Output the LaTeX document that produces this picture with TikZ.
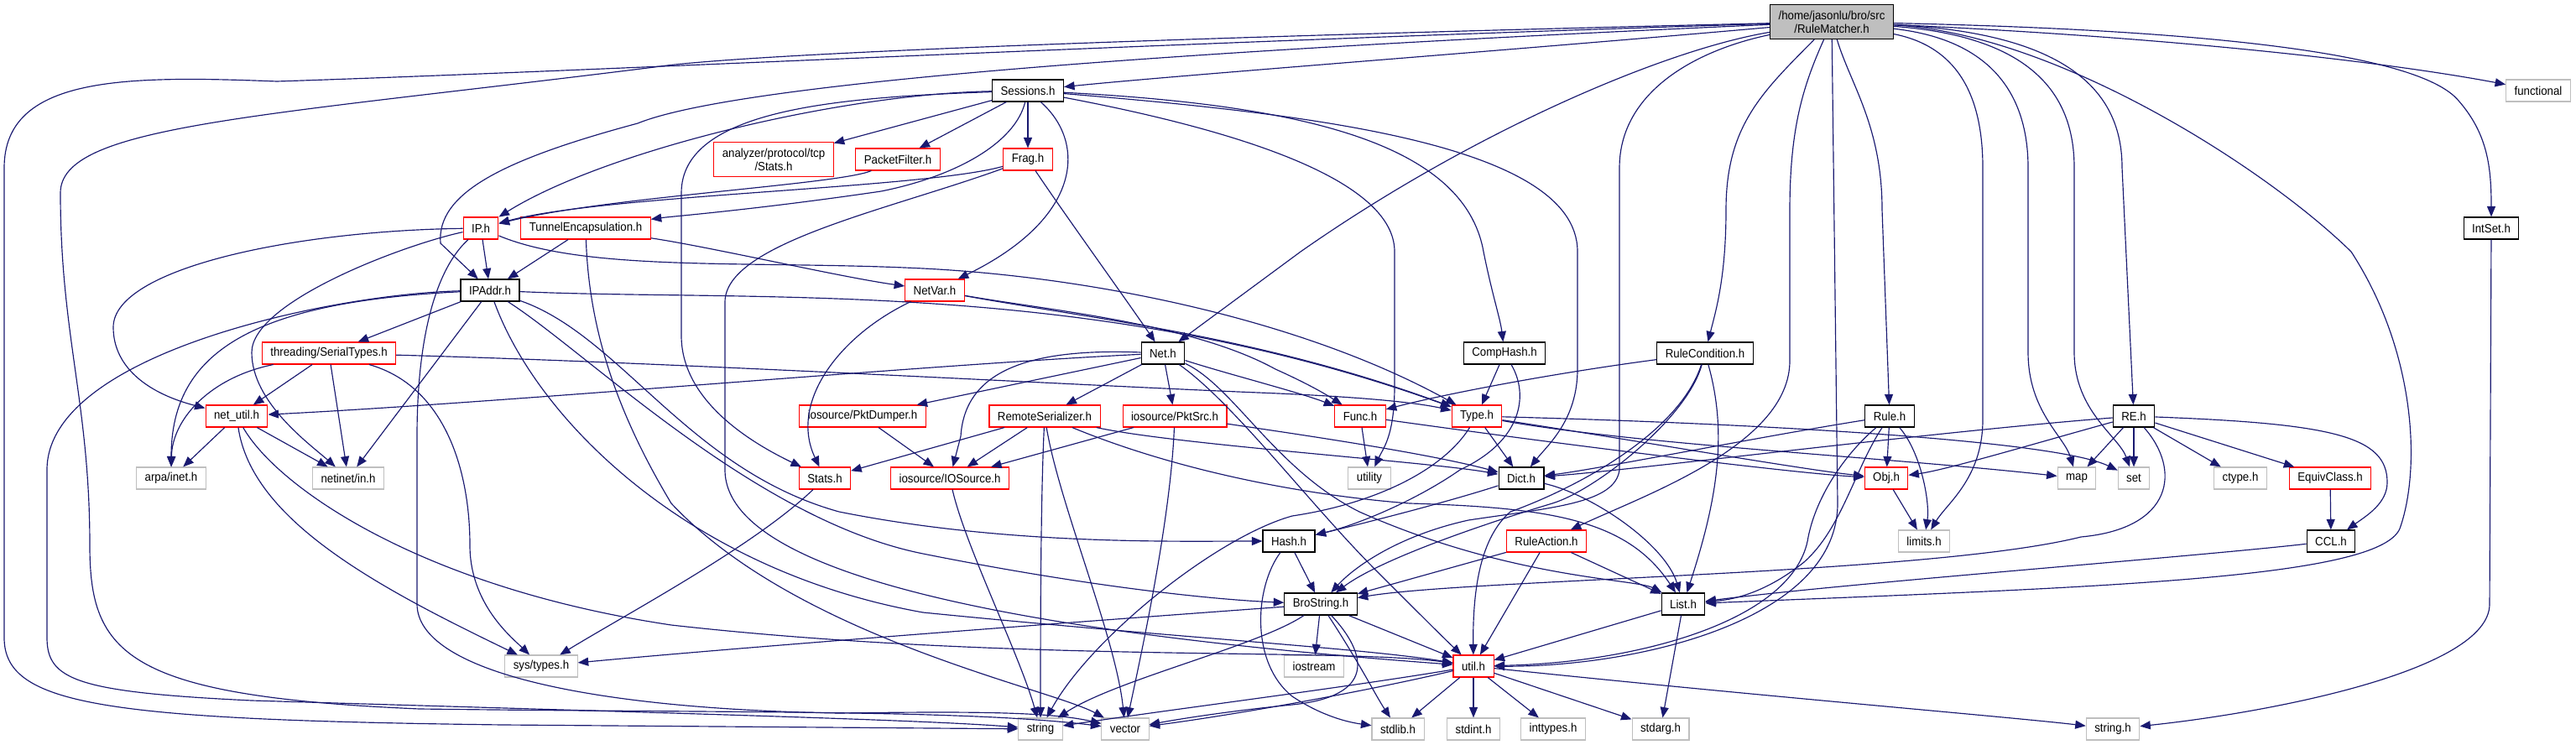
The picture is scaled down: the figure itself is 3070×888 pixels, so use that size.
\documentclass[tikz,border=0pt]{standalone}
\usepackage{fontspec}
\newfontfamily\dotfont[FakeStretch=0.92]{Liberation Sans}
\usetikzlibrary{arrows.meta}
\definecolor{edgeblue}{RGB}{25,25,112}
\definecolor{boxgray}{RGB}{191,191,191}

\begin{document}
\begin{tikzpicture}[x=0.01cm,y=-0.01cm]
    \tikzstyle{every node}=[rectangle,fill=white,inner xsep=0.1cm,inner ysep=0pt,
                            minimum height=0.26cm,align=center,
                            font=\dotfont\fontsize{4.1}{4.6}\selectfont]
    \tikzstyle{docfile}=[draw=black,line width=0.32pt]
    \tikzstyle{truncfile}=[draw=red,line width=0.3pt]
    \tikzstyle{sysfile}=[draw=boxgray,line width=0.3pt]
    \tikzstyle{rootfile}=[draw=black,fill=boxgray,line width=0.32pt]
    \tikzstyle{dep}=[draw=edgeblue,line width=0.33pt,
                     -{Triangle[length=0.125cm,width=0.1cm]}]

    \useasboundingbox (0,0) rectangle (3070,888);

    % the files, row by row
    \node[rootfile,minimum height=0.41cm] (rm) at (2183,26) {/home/jasonlu/bro/src\\/RuleMatcher.h};
    \node[docfile] (sessions) at (1225,108) {Sessions.h};
    \node[sysfile] (functional) at (3025,108) {functional};
    \node[truncfile,minimum height=0.41cm] (tcpstats) at (922,190) {analyzer/protocol/tcp\\/Stats.h};
    \node[truncfile] (pktfilter) at (1070,190) {PacketFilter.h};
    \node[truncfile] (frag) at (1225,190) {Frag.h};
    \node[truncfile] (ip) at (573,272) {IP.h};
    \node[truncfile] (tunnel) at (698,272) {TunnelEncapsulation.h};
    \node[docfile] (intset) at (2969,272) {IntSet.h};
    \node[docfile] (ipaddr) at (584,346) {IPAddr.h};
    \node[truncfile] (netvar) at (1114,346) {NetVar.h};
    \node[truncfile] (serialtypes) at (392,421) {threading/SerialTypes.h};
    \node[docfile] (net) at (1386,421) {Net.h};
    \node[docfile] (comphash) at (1793,421) {CompHash.h};
    \node[docfile] (rulecond) at (2032,421) {RuleCondition.h};
    \node[truncfile] (netutil) at (282,496) {net\_util.h};
    \node[truncfile] (pktdumper) at (1028,496) {iosource/PktDumper.h};
    \node[truncfile] (remoteser) at (1245,496) {RemoteSerializer.h};
    \node[truncfile] (pktsrc) at (1400,496) {iosource/PktSrc.h};
    \node[truncfile] (func) at (1621,496) {Func.h};
    \node[truncfile] (type) at (1760,496) {Type.h};
    \node[docfile] (rule) at (2252,496) {Rule.h};
    \node[docfile] (re) at (2543,496) {RE.h};
    \node[sysfile] (arpainet) at (204,570) {arpa/inet.h};
    \node[sysfile] (netinetin) at (415,570) {netinet/in.h};
    \node[truncfile] (stats) at (983,570) {Stats.h};
    \node[truncfile] (iosource) at (1132,570) {iosource/IOSource.h};
    \node[sysfile] (utility) at (1632,570) {utility};
    \node[docfile] (dict) at (1813,570) {Dict.h};
    \node[truncfile] (obj) at (2248,570) {Obj.h};
    \node[sysfile] (map) at (2475,570) {map};
    \node[sysfile] (set) at (2543,570) {set};
    \node[sysfile] (ctype) at (2670,570) {ctype.h};
    \node[truncfile] (equiv) at (2777,570) {EquivClass.h};
    \node[docfile] (hash) at (1536,645) {Hash.h};
    \node[truncfile] (ruleaction) at (1843,645) {RuleAction.h};
    \node[sysfile] (limits) at (2293,645) {limits.h};
    \node[docfile] (ccl) at (2778,645) {CCL.h};
    \node[docfile] (brostring) at (1574,720) {BroString.h};
    \node[docfile] (list) at (2006,720) {List.h};
    \node[sysfile] (systypes) at (645,794) {sys/types.h};
    \node[sysfile] (iostream) at (1566,794) {iostream};
    \node[truncfile] (util) at (1756,794) {util.h};
    \node[sysfile] (string) at (1240,869) {string};
    \node[sysfile] (vector) at (1341,869) {vector};
    \node[sysfile] (stdlib) at (1666,869) {stdlib.h};
    \node[sysfile] (stdint) at (1756,869) {stdint.h};
    \node[sysfile] (inttypes) at (1851,869) {inttypes.h};
    \node[sysfile] (stdarg) at (1979,869) {stdarg.h};
    \node[sysfile] (stringh) at (2518,869) {string.h};

    % RuleMatcher.h includes
    \draw[dep] (rm) .. controls (1400,50) and (700,85) .. (330,97) .. controls (150,90) and (5,90) .. (5,200)
        -- (5,760) .. controls (5,840) and (120,858) .. (600,864) -- (string);
    \draw[dep] (rm) .. controls (1500,42) and (900,62) .. (780,80) .. controls (300,140) and (72,150) .. (72,230)
        .. controls (72,400) and (107,480) .. (107,650) .. controls (107,780) and (150,830) .. (500,845)
        .. controls (900,850) and (1150,846) .. (vector);
    \draw[dep] (rm) .. controls (1600,52) and (900,90) .. (760,147) .. controls (600,190) and (520,230) .. (525,290) -- (ipaddr);
    \draw[dep] (rm) .. controls (1800,60) and (1400,90) .. (sessions);
    \draw[dep] (rm) .. controls (1980,60) and (1750,160) .. (1550,300) -- (net);
    \draw[dep] (rm) .. controls (2020,60) and (1930,110) .. (1930,200) -- (1930,560)
        .. controls (1925,600) and (1850,605) .. (1750,620) .. controls (1660,640) and (1610,680) .. (brostring);
    \draw[dep] (rm) -- (2190,600) .. controls (2190,740) and (1950,795) .. (util);
    \draw[dep] (rm) .. controls (2100,110) and (2057,150) .. (2057,250) .. controls (2057,330) and (2045,370) .. (rulecond);
    \draw[dep] (rm) .. controls (2150,100) and (2133,150) .. (2133,250) -- (2133,430)
        .. controls (2133,530) and (1960,590) .. (ruleaction);
    \draw[dep] (rm) .. controls (2205,100) and (2243,150) .. (2243,250) -- (rule);
    \draw[dep] (rm) .. controls (2330,55) and (2363,110) .. (2363,200) -- (2363,500) .. controls (2363,570) and (2320,600) .. (limits);
    \draw[dep] (rm) .. controls (2380,48) and (2417,120) .. (2417,200) -- (2417,420) .. controls (2417,490) and (2460,520) .. (map);
    \draw[dep] (rm) .. controls (2430,44) and (2472,120) .. (2472,200) -- (2472,420) .. controls (2472,490) and (2525,520) .. (set);
    \draw[dep] (rm) .. controls (2480,40) and (2529,120) .. (2529,200) -- (re);
    \draw[dep] (rm) .. controls (2450,40) and (2700,200) .. (2802,300) .. controls (2880,420) and (2885,560) .. (2860,630)
        .. controls (2835,690) and (2500,700) .. (list);
    \draw[dep] (rm) .. controls (2600,35) and (2880,60) .. (2930,120) .. controls (2965,160) and (2969,200) .. (intset);
    \draw[dep] (rm) .. controls (2600,45) and (2850,75) .. (functional);

    % Sessions.h
    \draw[dep] (sessions) .. controls (1000,112) and (720,180) .. (ip);
    \draw[dep] (sessions) .. controls (1210,170) and (1140,210) .. (1050,228) .. controls (900,250) and (800,258) .. (tunnel);
    \draw[dep] (sessions) -- (tcpstats);
    \draw[dep] (sessions) -- (pktfilter);
    \draw[dep] (sessions) -- (frag);
    \draw[dep] (sessions) .. controls (1000,116) and (812,130) .. (812,230) -- (812,400) .. controls (812,480) and (900,530) .. (stats);
    \draw[dep] (sessions) .. controls (1295,170) and (1290,260) .. (netvar);
    \draw[dep] (sessions) .. controls (1550,125) and (1745,170) .. (1768,300) .. controls (1778,350) and (1788,380) .. (comphash);
    \draw[dep] (sessions) .. controls (1550,135) and (1880,170) .. (1880,300) -- (1880,440) .. controls (1880,500) and (1845,530) .. (dict);
    \draw[dep] (sessions) .. controls (1500,160) and (1662,220) .. (1662,300) -- (1662,460) .. controls (1662,520) and (1648,535) .. (utility);

    \draw[dep] (pktfilter) .. controls (1000,220) and (720,235) .. (ip);
    \draw[dep] (frag) .. controls (1100,225) and (720,232) .. (ip);
    \draw[dep] (frag) .. controls (1265,250) and (1330,340) .. (net);
    \draw[dep] (frag) .. controls (1060,250) and (864,290) .. (864,360) -- (864,560) .. controls (864,700) and (1300,760) .. (util);

    % IP.h and TunnelEncapsulation.h
    \draw[dep] (tunnel) -- (ipaddr);
    \draw[dep] (tunnel) .. controls (850,295) and (1000,330) .. (netvar);
    \draw[dep] (tunnel) .. controls (702,400) and (740,500) .. (800,600) .. controls (950,760) and (1250,820) .. (vector);
    \draw[dep] (ip) -- (ipaddr);
    \draw[dep] (ip) .. controls (350,275) and (135,320) .. (135,390) .. controls (135,440) and (180,470) .. (netutil);
    \draw[dep] (ip) .. controls (480,292) and (300,360) .. (300,420) .. controls (300,480) and (370,530) .. (netinetin);
    \draw[dep] (ip) .. controls (520,320) and (497,400) .. (497,520) -- (497,720) .. controls (497,800) and (700,845) .. (1000,850)
        .. controls (1150,848) and (1250,848) .. (vector);
    \draw[dep] (ip) .. controls (700,325) and (900,310) .. (1100,320) .. controls (1300,330) and (1550,380) .. (type);

    % IPAddr.h
    \draw[dep] (ipaddr) -- (serialtypes);
    \draw[dep] (ipaddr) -- (netinetin);
    \draw[dep] (ipaddr) .. controls (300,360) and (204,420) .. (arpainet);
    \draw[dep] (ipaddr) .. controls (400,350) and (56,420) .. (56,560) -- (56,760) .. controls (56,810) and (90,825) .. (300,835)
        .. controls (800,850) and (1100,858) .. (string);
    \draw[dep] (ipaddr) .. controls (640,500) and (820,680) .. (1100,730) .. controls (1400,760) and (1620,772) .. (util);
    \draw[dep] (ipaddr) .. controls (700,420) and (900,620) .. (1100,660) .. controls (1300,700) and (1450,715) .. (brostring);
    \draw[dep] (ipaddr) .. controls (740,400) and (820,560) .. (1000,610) .. controls (1200,650) and (1400,645) .. (hash);
    \draw[dep] (ipaddr) .. controls (900,360) and (1300,330) .. (type);

    % threading/SerialTypes.h and net_util.h
    \draw[dep] (serialtypes) -- (netutil);
    \draw[dep] (serialtypes) .. controls (250,450) and (205,500) .. (arpainet);
    \draw[dep] (serialtypes) -- (netinetin);
    \draw[dep] (serialtypes) .. controls (530,460) and (560,560) .. (560,650) .. controls (560,720) and (610,760) .. (systypes);
    \draw[dep] (serialtypes) .. controls (800,432) and (1300,460) .. (1500,468) .. controls (1600,472) and (1680,478) .. (type);
    \draw[dep] (netutil) -- (arpainet);
    \draw[dep] (netutil) -- (netinetin);
    \draw[dep] (netutil) .. controls (300,620) and (450,700) .. (systypes);
    \draw[dep] (netutil) .. controls (330,580) and (500,700) .. (800,745) .. controls (1200,790) and (1600,772) .. (util);

    % NetVar.h and Net.h
    \draw[dep] (netvar) .. controls (1000,400) and (940,480) .. (stats);
    \draw[dep] (netvar) .. controls (1250,370) and (1420,385) .. (1520,440) .. controls (1560,458) and (1580,470) .. (func);
    \draw[dep] (netvar) .. controls (1300,380) and (1500,400) .. (type);
    \draw[dep] (net) .. controls (1100,435) and (600,480) .. (netutil);
    \draw[dep] (net) .. controls (1230,415) and (1150,440) .. (1145,520) -- (iosource);
    \draw[dep] (net) -- (pktdumper);
    \draw[dep] (net) -- (remoteser);
    \draw[dep] (net) -- (pktsrc);
    \draw[dep] (net) .. controls (1460,445) and (1550,468) .. (func);
    \draw[dep] (net) .. controls (1470,460) and (1520,560) .. (1620,610) .. controls (1800,690) and (1950,690) .. (list);
    \draw[dep] (net) .. controls (1470,480) and (1560,600) .. (1640,680) .. controls (1690,730) and (1720,760) .. (util);

    % iosource and RemoteSerializer.h
    \draw[dep] (pktdumper) -- (iosource);
    \draw[dep] (remoteser) -- (stats);
    \draw[dep] (remoteser) -- (iosource);
    \draw[dep] (remoteser) .. controls (1240,600) and (1240,760) .. (string);
    \draw[dep] (remoteser) .. controls (1262,600) and (1330,760) .. (vector);
    \draw[dep] (remoteser) .. controls (1400,530) and (1700,550) .. (dict);
    \draw[dep] (remoteser) .. controls (1400,560) and (1550,590) .. (1680,600) .. controls (1850,605) and (1940,620) .. (list);
    \draw[dep] (pktsrc) -- (iosource);
    \draw[dep] (pktsrc) .. controls (1395,620) and (1360,780) .. (vector);
    \draw[dep] (pktsrc) .. controls (1550,518) and (1700,540) .. (dict);
    \draw[dep] (stats) .. controls (900,650) and (750,730) .. (systypes);
    \draw[dep] (iosource) .. controls (1150,650) and (1215,780) .. (string);

    % CompHash.h, RuleCondition.h, Func.h, Type.h
    \draw[dep] (comphash) -- (type);
    \draw[dep] (comphash) .. controls (1822,470) and (1815,525) .. (1740,560) .. controls (1690,595) and (1620,625) .. (hash);
    \draw[dep] (rulecond) .. controls (1850,445) and (1720,470) .. (func);
    \draw[dep] (rulecond) .. controls (2010,500) and (1900,585) .. (1850,600) .. controls (1750,630) and (1640,670) .. (brostring);
    \draw[dep] (rulecond) .. controls (2000,520) and (1870,585) .. (1800,610) .. controls (1765,640) and (1755,700) .. (util);
    \draw[dep] (rulecond) .. controls (2060,520) and (2045,600) .. (list);
    \draw[dep] (func) -- (utility);
    \draw[dep] (func) .. controls (1900,535) and (2150,565) .. (obj);
    \draw[dep] (type) -- (dict);
    \draw[dep] (type) .. controls (1950,525) and (2150,560) .. (obj);
    \draw[dep] (type) .. controls (2100,505) and (2450,525) .. (set);
    \draw[dep] (type) .. controls (1950,530) and (2250,545) .. (map);
    \draw[dep] (type) .. controls (1720,560) and (1640,600) .. (1540,615) .. controls (1450,640) and (1300,760) .. (string);

    % Rule.h, RE.h and friends
    \draw[dep] (rule) .. controls (2100,520) and (1900,560) .. (dict);
    \draw[dep] (rule) -- (obj);
    \draw[dep] (rule) .. controls (2290,540) and (2300,600) .. (limits);
    \draw[dep] (rule) .. controls (2210,560) and (2195,630) .. (2150,670) .. controls (2100,710) and (2060,715) .. (list);
    \draw[dep] (rule) .. controls (2200,540) and (2165,590) .. (2155,640) .. controls (2140,740) and (1950,790) .. (util);
    \draw[dep] (obj) -- (limits);
    \draw[dep] (re) .. controls (2300,515) and (1950,560) .. (dict);
    \draw[dep] (re) .. controls (2420,530) and (2320,560) .. (obj);
    \draw[dep] (re) -- (map);
    \draw[dep] (re) -- (set);
    \draw[dep] (re) -- (ctype);
    \draw[dep] (re) -- (equiv);
    \draw[dep] (re) .. controls (2600,560) and (2590,630) .. (2480,640) .. controls (2300,685) and (1750,690) .. (brostring);
    \draw[dep] (re) .. controls (2780,505) and (2845,520) .. (2845,575) .. controls (2845,600) and (2820,615) .. (ccl);
    \draw[dep] (equiv) -- (ccl);
    \draw[dep] (ccl) .. controls (2600,665) and (2200,695) .. (list);

    % Dict.h, Hash.h, RuleAction.h
    \draw[dep] (dict) .. controls (1720,600) and (1620,625) .. (hash);
    \draw[dep] (dict) .. controls (1900,590) and (1985,650) .. (list);
    \draw[dep] (hash) -- (brostring);
    \draw[dep] (hash) .. controls (1495,700) and (1490,790) .. (1540,830) .. controls (1570,850) and (1600,860) .. (stdlib);
    \draw[dep] (ruleaction) -- (brostring);
    \draw[dep] (ruleaction) -- (util);
    \draw[dep] (ruleaction) -- (list);

    % BroString.h, List.h, util.h
    \draw[dep] (brostring) .. controls (1300,740) and (900,770) .. (systypes);
    \draw[dep] (brostring) -- (iostream);
    \draw[dep] (brostring) -- (util);
    \draw[dep] (brostring) .. controls (1620,790) and (1640,830) .. (stdlib);
    \draw[dep] (brostring) .. controls (1500,770) and (1330,810) .. (string);
    \draw[dep] (brostring) .. controls (1630,780) and (1640,830) .. (1540,840) .. controls (1460,848) and (1400,858) .. (vector);
    \draw[dep] (list) -- (util);
    \draw[dep] (list) -- (stdarg);
    \draw[dep] (util) -- (stdlib);
    \draw[dep] (util) -- (stdint);
    \draw[dep] (util) -- (inttypes);
    \draw[dep] (util) -- (stdarg);
    \draw[dep] (util) .. controls (2100,830) and (2400,855) .. (stringh);
    \draw[dep] (util) .. controls (1600,820) and (1400,845) .. (string);
    \draw[dep] (util) .. controls (1600,830) and (1450,855) .. (vector);
    \draw[dep] (intset) -- (2967,720) .. controls (2967,800) and (2700,850) .. (stringh);
\end{tikzpicture}
\end{document}
